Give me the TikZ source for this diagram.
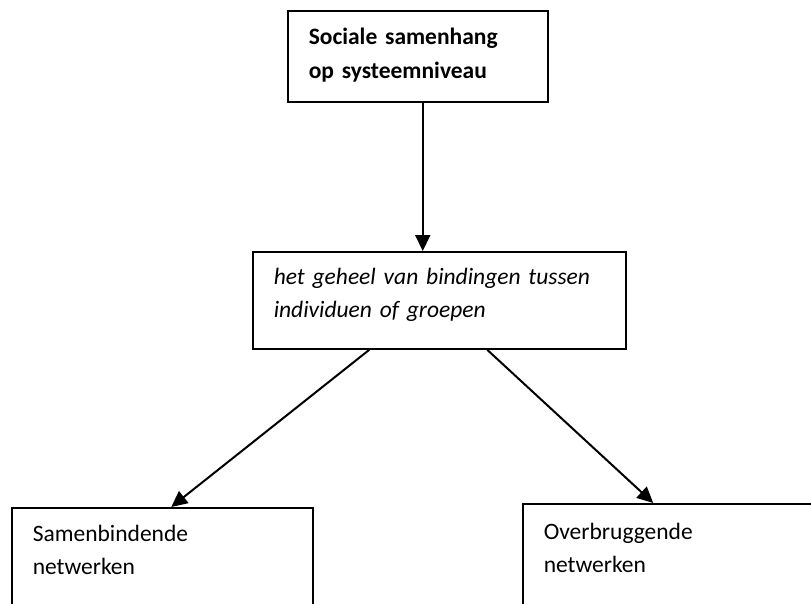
\documentclass[tikz,border=0pt]{standalone}
\usepackage{fontspec}
\setmainfont{Carlito}
\usetikzlibrary{positioning, arrows.meta}

\begin{document}
\begin{tikzpicture}[
        x=1pt, y=1pt,
        box/.style={rectangle, draw, line width=1.5pt, anchor=north west, align=left, inner xsep=21pt, inner ysep=18pt, font=\fontsize{23.5}{33}\selectfont},
        topbox/.style={box, inner ysep=17pt, font=\fontsize{23.5}{34}\selectfont\bfseries},
        midbox/.style={box, inner ysep=16pt, font=\fontsize{23.5}{33}\selectfont\itshape},
        arrow/.style={-{Triangle[length=16pt, width=15pt]}, line width=2pt}
    ]
    \useasboundingbox (0,0) rectangle (811,-603);
    % Top
    \node[topbox, text width=218pt, text depth=41pt] (sys) at (287,-10) {Sociale samenhang\\op systeemniveau};
    % Middle
    \node[midbox, text width=331pt, text depth=49pt] (bind) at (252,-251) {het geheel van bindingen tussen\\individuen of groepen};
    % Bottom, both run off the page
    \node[box, text width=259pt, inner ysep=17pt, text depth=110pt] (samen) at (11,-507) {Samenbindende\\netwerken};
    \node[box, text width=259pt, inner ysep=19pt, text depth=110pt] (brug) at (522,-503) {Overbruggende\\netwerken};
    % Arrows
    \draw[arrow] ([xshift=5pt]sys.south) -- ([xshift=5pt]sys.south |- bind.north);
    \draw[arrow] ([xshift=-70pt]bind.south) -- ([xshift=9pt]samen.north);
    \draw[arrow] ([xshift=48pt]bind.south) -- ([xshift=-20pt]brug.north);
\end{tikzpicture}
\end{document}
